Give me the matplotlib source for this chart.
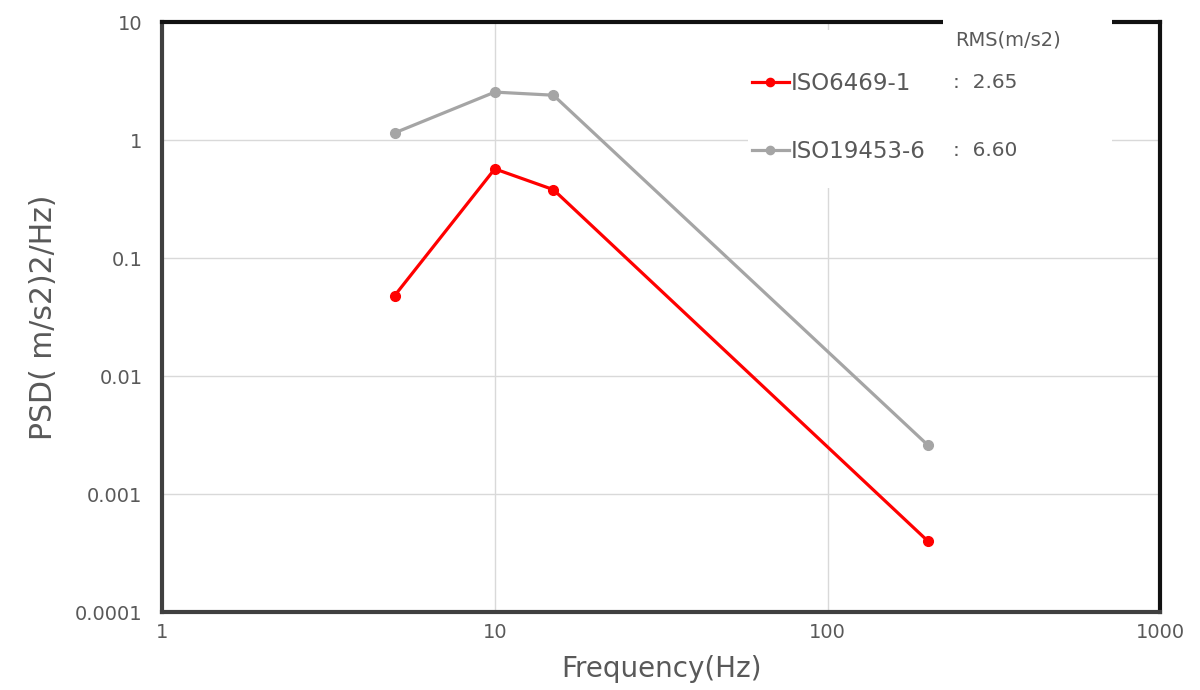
import matplotlib.pyplot as plt
from matplotlib.patches import Rectangle

# PSD profiles (frequency in Hz, PSD in (m/s2)2/Hz)
freq = [5, 10, 15, 200]
psd_iso6469 = [0.048, 0.57, 0.38, 0.0004]
psd_iso19453 = [1.15, 2.55, 2.4, 0.0026]
series_names = ["ISO6469-1", "ISO19453-6"]
rms_values = ["2.65", "6.60"]

x_ticks = [1, 10, 100, 1000]
x_ticklabels = ["1", "10", "100", "1000"]
y_ticks = [0.0001, 0.001, 0.01, 0.1, 1, 10]
y_ticklabels = ["0.0001", "0.001", "0.01", "0.1", "1", "10"]

text_color = "#595959"

fig = plt.figure(figsize=(12, 6.9), dpi=100)
ax = fig.add_axes([0.135, 0.113, 0.832, 0.855])

ax.plot(freq, psd_iso6469, color="#FF0000", linewidth=2.3, marker="o",
        markersize=7, label=series_names[0], zorder=3)
ax.plot(freq, psd_iso19453, color="#A5A5A5", linewidth=2.3, marker="o",
        markersize=7, label=series_names[1], zorder=3)

ax.set_xscale("log")
ax.set_yscale("log")
ax.set_xlim(1, 1000)
ax.set_ylim(0.0001, 10)
ax.set_xticks(x_ticks)
ax.set_xticklabels(x_ticklabels)
ax.set_yticks(y_ticks)
ax.set_yticklabels(y_ticklabels)
ax.minorticks_off()
ax.tick_params(length=0, labelsize=14, labelcolor=text_color)
ax.tick_params(axis="y", pad=14)
ax.tick_params(axis="x", pad=8)
ax.grid(True, color="#D9D9D9", linewidth=1)
ax.set_axisbelow(True)

for side in ["left", "bottom"]:
    ax.spines[side].set_color("#404040")
    ax.spines[side].set_linewidth(3)
for side in ["right", "top"]:
    ax.spines[side].set_color("#111111")
    ax.spines[side].set_linewidth(3)

ax.set_xlabel("Frequency(Hz)", fontsize=20, color=text_color, labelpad=9)
ax.set_ylabel("PSD( m/s2)2/Hz)", fontsize=21.5, color=text_color, labelpad=12)

# white boxes behind the legend / RMS column (hides grid and top frame)
fig.patches.append(Rectangle((748 / 1200, 1 - 188 / 690), (943 - 748) / 1200, (188 - 30) / 690,
                             transform=fig.transFigure, facecolor="white",
                             edgecolor="none", zorder=5))
fig.patches.append(Rectangle((943 / 1200, 1 - 190 / 690), (1112 - 943) / 1200, 190 / 690,
                             transform=fig.transFigure, facecolor="white",
                             edgecolor="none", zorder=5))

leg = fig.legend(loc="upper left", bbox_to_anchor=(752 / 1200, 1 - 72 / 690),
                 frameon=False, fontsize=16.5, labelspacing=1.95, handlelength=1.6,
                 handletextpad=0.1, borderpad=0, borderaxespad=0, markerscale=0.85)
leg.set_zorder(6)
for t in leg.get_texts():
    t.set_color(text_color)

fig.text(955 / 1200, 1 - 40 / 690, "RMS(m/s2)", fontsize=14, color=text_color,
         va="center", ha="left", zorder=7)
fig.text(953 / 1200, 1 - 82 / 690, ":  " + rms_values[0], fontsize=14.5, color=text_color,
         va="center", ha="left", zorder=7)
fig.text(953 / 1200, 1 - 150 / 690, ":  " + rms_values[1], fontsize=14.5, color=text_color,
         va="center", ha="left", zorder=7)

fig.savefig("out.png", dpi=100)
